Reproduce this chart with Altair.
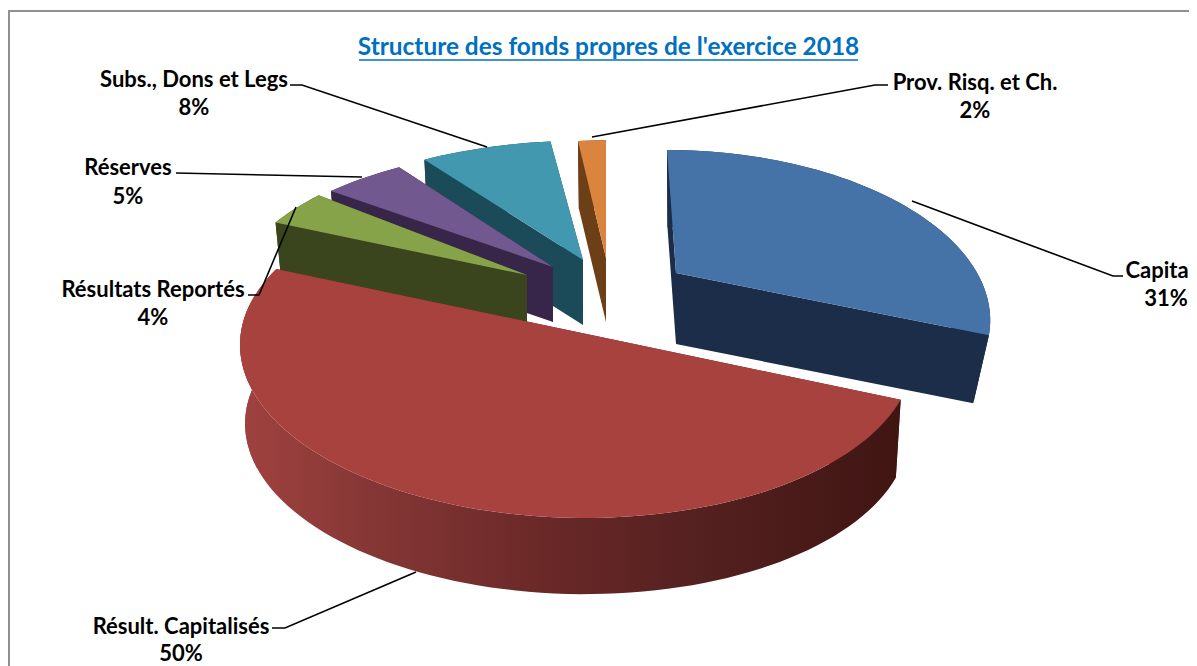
import math
import altair as alt
import pandas as pd

# values (the first label is cut at the picture edge in the reference)
labels = ["Capita", "Résult. Capitalisés", "Résultats Reportés", "Réserves", "Subs., Dons et Legs", "Prov. Risq. et Ch."]
shares = [31, 50, 4, 5, 8, 2]
title_text = "Structure des fonds propres de l'exercice 2018"

# styles / layout
top_colors = ["#4572a7", "#a7423f", "#87a34a", "#71588f", "#4198af", "#db843d"]
wall_colors = ["#1b2d48", "#5e2422", "#3a441d", "#37264a", "#1b4a58", "#6c3f17"]
# apex x, apex y, a, b, perspective, depth, bottom scale, shear, skew
geom = [
    (676, 273, 311, 164, 0.25, 71, 0.95, 0.073, 0.0),
    (577, 332, 337, 169, 0.10, 79, 0.985, 0.0, 0.012),
    (527, 275, 305, 166, 0.25, 50, 0.98, 0.0, 0.0),
    (553, 267, 325, 158, 0.25, 55, 0.98, 0.0, 0.0),
    (583, 260, 335, 159, 0.25, 65, 0.98, 0.0, 0.0),
    (606, 258, 288, 157, 0.25, 64, 0.97, 0.0, 0.0),
]
draw_order = [5, 4, 3, 2, 0, 1]
label_pos = [(1157, 271), (181, 627), (153, 290), (128, 168), (194, 80), (975, 83)]
pct_pos = [(1166, 299), (181, 654), (153, 318), (128, 197), (194, 108), (975, 111)]
leaders = [
    [(1123, 276), (1113, 276), (912, 201)],
    [(272, 628), (285, 628), (416, 572)],
    [(248, 295), (259, 295), (296, 207)],
    [(176, 173), (362, 177)],
    [(290, 85), (302, 85), (487, 147)],
    [(888, 85), (875, 85), (592, 137)],
]
START = 90.0
W, H = 1181, 658
xs = alt.Scale(domain=[8, 8 + W], nice=False, zero=False)
ys = alt.Scale(domain=[8 + H, 8], nice=False, zero=False)


def project(theta, g, bottom=False):
    ax, ay, a, b, p, d, k, shear, skew = g
    t = math.radians(theta)
    X, Y = math.cos(t), math.sin(t)
    w = 1 + p * Y
    xp = a * X * math.sqrt(1 - p * p) / w
    yp = -b * ((Y + p) / w - p)
    dx = xp + shear * yp
    dy = yp + skew * xp
    if bottom:
        return ax + k * dx, ay + d + k * dy
    return ax + dx, ay + dy


def polygon(pts, fill):
    df = pd.DataFrame({"x": [q[0] for q in pts] + [pts[0][0]],
                       "y": [q[1] for q in pts] + [pts[0][1]]})
    df["i"] = range(len(df))
    return alt.Chart(df).mark_line(filled=True, fill=fill, strokeWidth=0).encode(
        x=alt.X("x:Q", scale=xs, axis=None),
        y=alt.Y("y:Q", scale=ys, axis=None),
        order="i:Q",
    )


def polyline(pts, color, width):
    df = pd.DataFrame({"x": [q[0] for q in pts], "y": [q[1] for q in pts]})
    df["i"] = range(len(df))
    return alt.Chart(df).mark_line(color=color, strokeWidth=width).encode(
        x=alt.X("x:Q", scale=xs, axis=None),
        y=alt.Y("y:Q", scale=ys, axis=None),
        order="i:Q",
    )


red_gradient = alt.Gradient(
    gradient="linear", x1=0, x2=1, y1=0, y2=0,
    stops=[
        alt.GradientStop(color="#a0423f", offset=0),
        alt.GradientStop(color="#853735", offset=0.2),
        alt.GradientStop(color="#6b2928", offset=0.45),
        alt.GradientStop(color="#542020", offset=0.7),
        alt.GradientStop(color="#3f1512", offset=1),
    ],
)

# slice angles from the shares, clockwise from START
bounds = []
ang = START
for s in shares:
    bounds.append((ang, ang - s * 3.6))
    ang -= s * 3.6

layers = []
for i in draw_order:
    g = geom[i]
    t0, t1 = bounds[i]
    n = max(4, int(abs(t0 - t1) / 2))
    thetas = [t0 + (t1 - t0) * j / n for j in range(n + 1)]
    top_arc = [project(t, g) for t in thetas]
    bot_arc = [project(t, g, True) for t in thetas]
    apex = (g[0], g[1])
    apex_b = (g[0], g[1] + g[5])
    wall = red_gradient if i == 1 else wall_colors[i]
    solid = wall_colors[i]
    layers.append(polygon([apex, top_arc[0], bot_arc[0], apex_b], solid))
    layers.append(polygon([apex, top_arc[-1], bot_arc[-1], apex_b], solid))
    if i == 1:
        # silhouette on the left, where the cylinder's side meets the top
        sil = [168 + 3 * j for j in range(12)]
        patch = [project(t, g) for t in sil] + [project(t, g, True) for t in sil[::-1]]
        layers.append(polygon(patch, "#9c423f"))
    layers.append(polygon(top_arc + bot_arc[::-1], wall))
    layers.append(polygon([apex] + top_arc, top_colors[i]))

# frame
layers.append(polyline([(9, 666), (9, 11), (1197, 11)], "#909090", 2))

# leaders
for pts in leaders:
    layers.append(polyline(pts, "#000000", 1.6))

# labels
rows = []
for lab, s, (lx, ly), (px, py) in zip(labels, shares, label_pos, pct_pos):
    rows.append({"x": lx, "y": ly, "t": lab})
    rows.append({"x": px, "y": py, "t": f"{s}%"})
layers.append(
    alt.Chart(pd.DataFrame(rows)).mark_text(
        font="Lato", fontWeight="bold", fontSize=22, color="#000000", align="center", baseline="middle"
    ).encode(x=alt.X("x:Q", scale=xs, axis=None), y=alt.Y("y:Q", scale=ys, axis=None), text="t:N")
)

# title with underline
layers.append(
    alt.Chart(pd.DataFrame({"x": [608.5], "y": [48], "t": [title_text]})).mark_text(
        font="Lato", fontWeight="bold", fontSize=24.4, color="#0070c0", align="center", baseline="middle"
    ).encode(x=alt.X("x:Q", scale=xs, axis=None), y=alt.Y("y:Q", scale=ys, axis=None), text="t:N")
)
layers.append(polyline([(359, 60), (858, 60)], "#0070c0", 1.6))

chart = alt.layer(*layers).properties(
    width=W, height=H, padding=0, background="white",
    autosize=alt.AutoSizeParams(type="none"),
).configure_view(stroke=None)
chart.save("out.html", embed_options={"renderer": "svg", "actions": False})
